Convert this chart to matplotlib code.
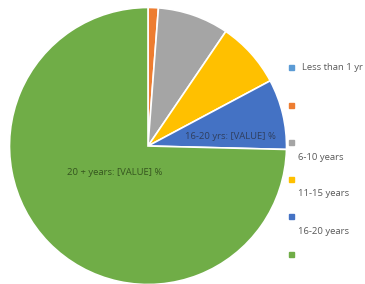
import numpy as np
import matplotlib.pyplot as plt

# years of experience shares
categories = ['Less than 1 yr', '', '6-10 years', '11-15 years', '16-20 years', '']
values = [0.0, 1.2, 8.3, 7.7, 8.2, 74.6]
colors = ['#5B9BD5', '#ED7D31', '#A5A5A5', '#FFC000', '#4472C4', '#70AD47']

fig = plt.figure(figsize=(3.65, 2.84), dpi=100)
plt.rcParams['font.family'] = ['Open Sans', 'DejaVu Sans']

# pie centre ~ (148,146) px, radius ~138 px
W, H = 365.0, 284.0
cx, cy, r = 148.0, 146.0, 138.5
ax = fig.add_axes([(cx - r) / W, (H - cy - r) / H, 2 * r / W, 2 * r / H])
wedges, _ = ax.pie(values, colors=colors, startangle=90, counterclock=False,
                   radius=1.0, wedgeprops=dict(edgecolor='white', linewidth=1.2))
ax.set_xlim(-1, 1)
ax.set_ylim(-1, 1)
ax.set_aspect('equal')
ax.axis('off')

ax.text(0.595, 0.07, '16-20 yrs: [VALUE] %', fontsize=6.8, color='#2f3f5f',
        ha='center', va='center')
ax.text(-0.24, -0.19, '20 + years: [VALUE] %', fontsize=6.8, color='#35551f',
        ha='center', va='center')

# legend drawn by hand: marker then label (some labels sit on the next line)
leg_y = [68, 105, 142, 179, 216, 254]
for lab, col, y in zip(categories, colors, leg_y):
    fig.patches.append(plt.Rectangle((289 / W, 1 - (y + 2.5) / H), 5 / W, 5 / H,
                                     transform=fig.transFigure, color=col))
    if lab.startswith('Less'):
        fig.text(302 / W, 1 - y / H, lab, fontsize=6.8, color='#595959', va='center')
    elif lab:
        fig.text(298 / W, 1 - (y + 15) / H, lab, fontsize=6.8, color='#595959', va='center')

plt.savefig('out.png', dpi=100)
